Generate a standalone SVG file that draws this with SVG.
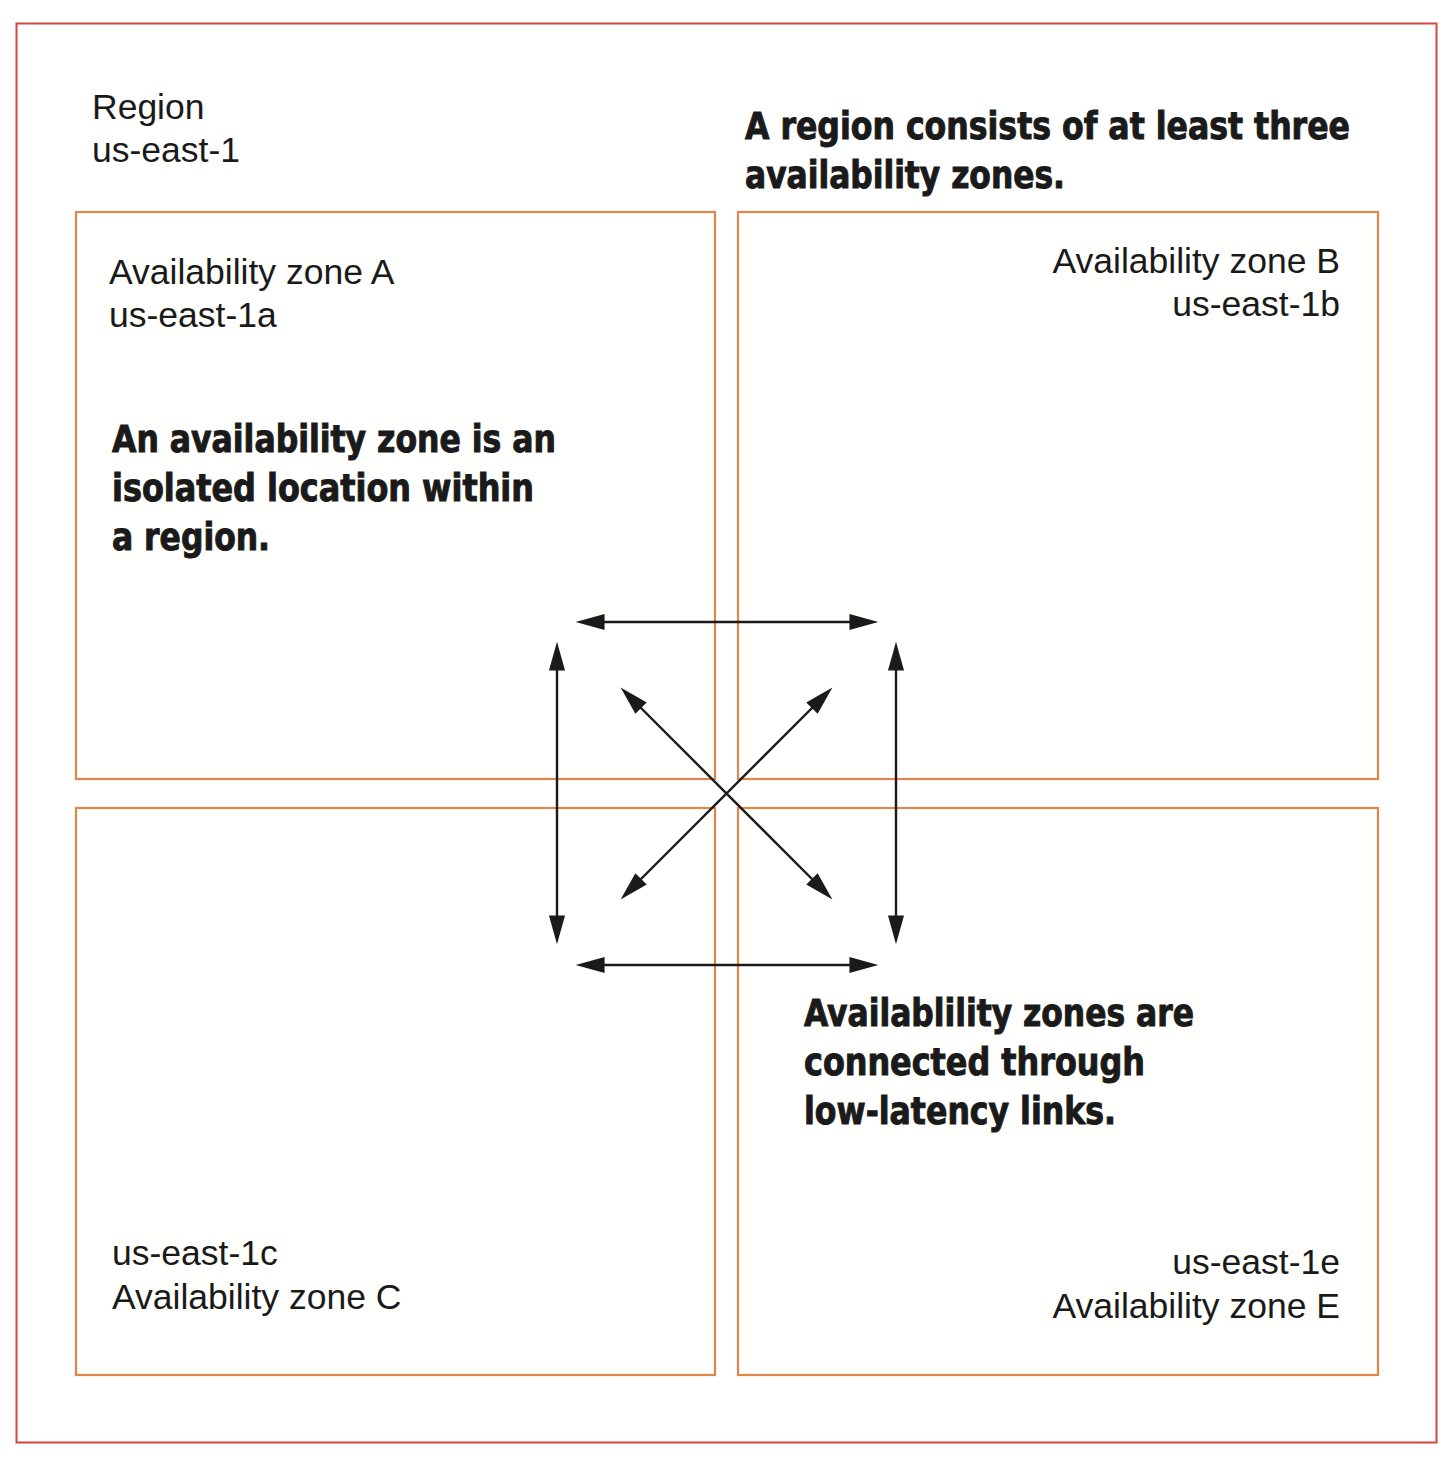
<svg xmlns="http://www.w3.org/2000/svg" width="1456" height="1462" viewBox="0 0 1456 1462">
<defs>
<style>
.region{fill:none;stroke:#d4453f;stroke-width:2}
.zone{fill:#fffffd;stroke:#e2854a;stroke-width:2.2}
.lbl{font-family:"Liberation Sans",Arial,sans-serif;font-size:35.5px;fill:#1a1a1a}
.note{font-family:"DejaVu Sans Condensed","DejaVu Sans",sans-serif;font-weight:bold;font-size:37px;fill:#1a1a1a;stroke:#1a1a1a;stroke-width:0.9}
.link{stroke:#1a1a1a;stroke-width:2.4;fill:none;marker-start:url(#ah);marker-end:url(#ah)}
</style>
<marker id="ah" markerUnits="userSpaceOnUse" markerWidth="30" markerHeight="18" viewBox="0 0 28 16" refX="8" refY="8" orient="auto-start-reverse">
<path d="M0,0.5 L27,8 L0,15.5 z" fill="#1a1a1a"/>
</marker>
</defs>
<rect width="1456" height="1462" fill="#ffffff"/>
<g id="region">
<rect class="region" x="16.5" y="23.5" width="1420" height="1419"/>
<text class="lbl" x="92" y="119">Region</text>
<text class="lbl" x="92" y="162">us-east-1</text>
</g>
<g id="zone-a">
<rect class="zone" x="76" y="212" width="639" height="567"/>
<text class="lbl" x="109" y="284">Availability zone A</text>
<text class="lbl" x="109" y="327">us-east-1a</text>
</g>
<g id="zone-b">
<rect class="zone" x="738" y="212" width="640" height="567"/>
<text class="lbl" x="1340" y="273" text-anchor="end">Availability zone B</text>
<text class="lbl" x="1340" y="316" text-anchor="end">us-east-1b</text>
</g>
<g id="zone-c">
<rect class="zone" x="76" y="808" width="639" height="567"/>
<text class="lbl" x="112" y="1265">us-east-1c</text>
<text class="lbl" x="112" y="1309">Availability zone C</text>
</g>
<g id="zone-e">
<rect class="zone" x="738" y="808" width="640" height="567"/>
<text class="lbl" x="1340" y="1274" text-anchor="end">us-east-1e</text>
<text class="lbl" x="1340" y="1318" text-anchor="end">Availability zone E</text>
</g>
<g id="notes">
<text class="note" x="745" y="139" textLength="605" lengthAdjust="spacingAndGlyphs">A region consists of at least three</text>
<text class="note" x="745" y="188" textLength="320" lengthAdjust="spacingAndGlyphs">availability zones.</text>
<text class="note" x="112" y="452" textLength="444" lengthAdjust="spacingAndGlyphs">An availability zone is an</text>
<text class="note" x="112" y="501" textLength="422" lengthAdjust="spacingAndGlyphs">isolated location within</text>
<text class="note" x="112" y="550" textLength="158" lengthAdjust="spacingAndGlyphs">a region.</text>
<text class="note" x="804" y="1026" textLength="390" lengthAdjust="spacingAndGlyphs">Availablility zones are</text>
<text class="note" x="804" y="1075" textLength="341" lengthAdjust="spacingAndGlyphs">connected through</text>
<text class="note" x="804" y="1124" textLength="312" lengthAdjust="spacingAndGlyphs">low-latency links.</text>
</g>
<g id="connectors">
<line class="link" x1="596" y1="622" x2="858" y2="622"/>
<line class="link" x1="596" y1="965" x2="858" y2="965"/>
<line class="link" x1="557" y1="662" x2="557" y2="924"/>
<line class="link" x1="896" y1="662" x2="896" y2="924"/>
<line class="link" x1="635" y1="702" x2="818" y2="885"/>
<line class="link" x1="818" y1="702" x2="635" y2="885"/>
</g>
</svg>
